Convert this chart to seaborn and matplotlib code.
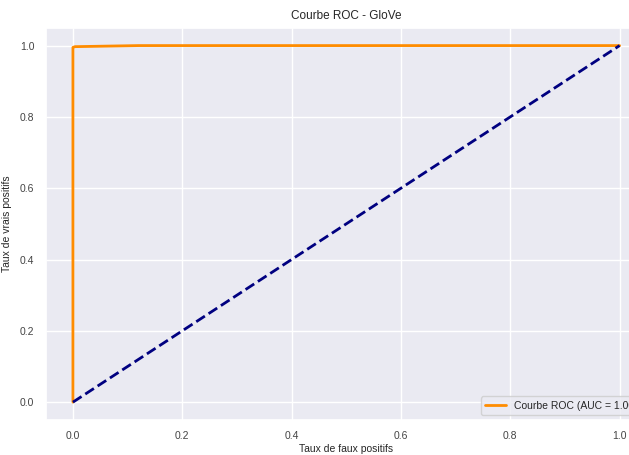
import matplotlib
matplotlib.use("Agg")
import matplotlib.pyplot as plt
import seaborn as sns

# ROC points
fpr = [0.0, 0.0, 0.004, 0.12, 1.0]
tpr = [0.0, 0.995, 0.997, 1.0, 1.0]
diag_x = [0.0, 1.0]
diag_y = [0.0, 1.0]
auc_value = 1.00

sns.set_theme(style="darkgrid")
plt.rcParams['font.family'] = ['Liberation Sans', 'DejaVu Sans']

fig = plt.figure(figsize=(6.29, 4.55), dpi=100)
ax = fig.add_axes([0.0725, 0.077, 0.956, 0.862])

sns.lineplot(x=fpr, y=tpr, ax=ax, color="darkorange", lw=2, sort=False,
             estimator=None, label=f"Courbe ROC (AUC = {auc_value:.2f})")
sns.lineplot(x=diag_x, y=diag_y, ax=ax, color="navy", lw=2, linestyle="--",
             estimator=None)

ax.set_xlim(-0.05, 1.05)
ax.set_ylim(-0.05, 1.05)
ax.set_xticks([0.0, 0.2, 0.4, 0.6, 0.8, 1.0])
ax.set_yticks([0.0, 0.2, 0.4, 0.6, 0.8, 1.0])
ax.tick_params(labelsize=7.5, colors="#444444", pad=2)
ax.set_xlabel("Taux de faux positifs", fontsize=7.5, labelpad=2)
ax.set_ylabel("Taux de vrais positifs", fontsize=7.5, labelpad=6)
ax.set_title("Courbe ROC - GloVe", fontsize=8.5)
ax.legend(loc="lower right", fontsize=7.5)

fig.savefig("out.png", dpi=100)
